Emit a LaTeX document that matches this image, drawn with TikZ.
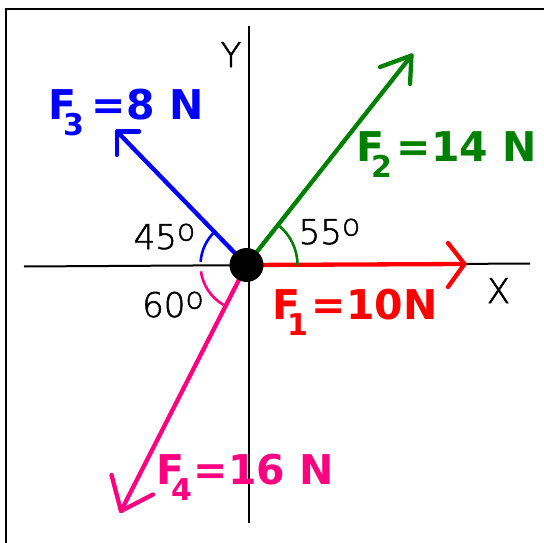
\documentclass[tikz,border=0pt]{standalone}
\usepackage{fontspec}
\newfontfamily\labfont{DejaVu Sans}
\newfontfamily\thinfont{DejaVuSans-ExtraLight.ttf}[FakeBold=1.6]
\definecolor{fonecol}{RGB}{255,0,0}
\definecolor{ftwocol}{RGB}{0,128,0}
\definecolor{fthreecol}{RGB}{0,0,255}
\definecolor{ffourcol}{RGB}{255,0,128}
\newcommand\flab[3]{F\kern-0.32em\raisebox{-16pt}{\fontsize{30}{30}\selectfont #1}\hspace{#2}#3}
\newcommand\degsym{\raisebox{8.5pt}{\fontsize{30}{30}\selectfont o}}
\tikzset{
  force/.style={line width=4.3pt, line cap=round, line join=round},
  anglearc/.style={line width=2.6pt},
  axisline/.style={line width=2pt, black},
  boldlab/.style={inner sep=0pt, anchor=base west, font=\labfont\bfseries\fontsize{41}{41}\selectfont},
  thinlab/.style={inner sep=0pt, anchor=base, font=\thinfont\bfseries\fontsize{34}{34}\selectfont},
  dot/.style={circle, fill=black, minimum size=34pt, inner sep=0pt}
}
\begin{document}
\begin{tikzpicture}[x=1pt,y=-1pt]
\useasboundingbox (0,0) rectangle (544,543);
\fill[white] (0,0) rectangle (544,543);
% frame
\coordinate (fr1) at (544,9);
\coordinate (fr2) at (5.8,9);
\coordinate (fr3) at (5.8,543);
\draw[line width=2.2pt] (fr1) -- (fr2) -- (fr3);
% axes
\coordinate (xa) at (24,266.5);
\coordinate (xb) at (530,263.5);
\coordinate (ya) at (248.5,26);
\coordinate (yb) at (248.5,523);
\draw[axisline] (xa) -- (xb);
\draw[axisline] (ya) -- (yb);
\node[thinlab] (ylab) at (231,67) {Y};
\node[thinlab] (xlab) at (498.5,303) {X};
% origin
\coordinate (O) at (246.5,265);
% F1
\coordinate (t1) at (464.5,264);
\coordinate (b1a) at (448,243);
\coordinate (b1b) at (448,287);
\draw[force, fonecol] (O) -- (t1);
\draw[force, fonecol] (b1a) -- (t1) -- (b1b);
% F2
\coordinate (t2) at (411.5,55.5);
\coordinate (b2a) at (380,67);
\coordinate (b2b) at (410,84);
\draw[force, ftwocol] (O) -- (t2);
\draw[force, ftwocol] (b2a) -- (t2) -- (b2b);
% F3
\coordinate (t3) at (117,131.5);
\coordinate (b3a) at (139,131.5);
\coordinate (b3b) at (117,155);
\draw[force, fthreecol] (O) -- (t3);
\draw[force, fthreecol] (b3a) -- (t3) -- (b3b);
% F4
\coordinate (t4) at (121,511);
\coordinate (b4a) at (111.5,475);
\coordinate (b4b) at (153,494.5);
\draw[force, ffourcol] (O) -- (t4);
\draw[force, ffourcol] (b4a) -- (t4) -- (b4b);
% angle arcs
\draw[anglearc, ftwocol] ([shift={(0:51)}]O) arc[start angle=0, end angle=-52, radius=51];
\draw[anglearc, fthreecol] ([shift={(184:46)}]O) arc[start angle=184, end angle=227, radius=46];
\draw[anglearc, ffourcol] ([shift={(172:46)}]O) arc[start angle=172, end angle=120, radius=46];
% dot
\node[dot] (dotnode) at (O) {};
% angle labels
\node[thinlab] (a45) at (164.5,249) {45\degsym};
\node[thinlab] (a55) at (329.5,244) {55\degsym};
\node[thinlab] (a60) at (173,317) {60\degsym};
% force labels
\node[boldlab, text=fthreecol] (l3) at (48,120) {\flab{3}{8pt}{=8 N}};
\node[boldlab, text=ftwocol] (l2) at (356,161) {\flab{2}{5pt}{=14 N}};
\node[boldlab, text=fonecol] (l1) at (272,319) {\flab{1}{4pt}{=10N}};
\node[boldlab, text=ffourcol] (l4) at (156,484) {\flab{4}{2pt}{=16 N}};
\end{tikzpicture}
\end{document}
